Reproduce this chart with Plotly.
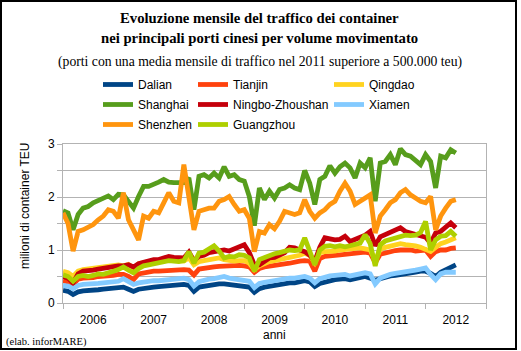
import plotly.graph_objects as go

years = ["2006", "2007", "2008", "2009", "2010", "2011", "2012"]
ports = ["Dalian", "Tianjin", "Qingdao", "Shanghai", "Ningbo-Zhoushan",
         "Xiamen", "Shenzhen", "Guangzhou"]
colors = ["#004586", "#ff420e", "#ffd320", "#579d1c", "#c5000b",
          "#83caff", "#ff950e", "#aecf00"]

dalian = [0.24, 0.22, 0.16, 0.21, 0.23, 0.23, 0.24, 0.25, 0.26, 0.27, 0.27, 0.28,
          0.30, 0.26, 0.22, 0.26, 0.28, 0.29, 0.30, 0.31, 0.32, 0.33, 0.33, 0.34,
          0.35, 0.33, 0.22, 0.30, 0.32, 0.34, 0.35, 0.36, 0.36, 0.35, 0.34, 0.33,
          0.33, 0.30, 0.20, 0.27, 0.30, 0.32, 0.33, 0.35, 0.37, 0.38, 0.38, 0.39,
          0.42, 0.40, 0.31, 0.37, 0.40, 0.42, 0.44, 0.45, 0.46, 0.44, 0.46, 0.48,
          0.50, 0.47, 0.43, 0.46, 0.49, 0.51, 0.52, 0.53, 0.55, 0.56, 0.58, 0.60,
          0.60, 0.56, 0.50, 0.58, 0.62, 0.67, 0.72]
tianjin = [0.42, 0.40, 0.35, 0.45, 0.47, 0.47, 0.48, 0.50, 0.50, 0.52, 0.52, 0.54,
           0.54, 0.50, 0.44, 0.55, 0.57, 0.58, 0.60, 0.60, 0.61, 0.62, 0.62, 0.62,
           0.63, 0.62, 0.53, 0.64, 0.66, 0.67, 0.68, 0.69, 0.70, 0.70, 0.72, 0.71,
           0.70, 0.68, 0.58, 0.65, 0.68, 0.70, 0.70, 0.72, 0.74, 0.75, 0.78, 0.79,
           0.80, 0.79, 0.60, 0.84, 0.88, 0.90, 0.90, 0.91, 0.92, 0.93, 0.94, 0.95,
           0.96, 0.94, 0.76, 0.92, 0.95, 0.97, 0.99, 1.00, 1.01, 1.00, 0.98, 0.99,
           1.00, 0.88, 0.97, 1.00, 1.00, 1.03, 1.04]
qingdao = [0.60, 0.57, 0.50, 0.60, 0.63, 0.64, 0.65, 0.66, 0.68, 0.68, 0.70, 0.72,
           0.70, 0.73, 0.66, 0.74, 0.76, 0.78, 0.80, 0.80, 0.82, 0.82, 0.80, 0.80,
           0.79, 0.85, 0.72, 0.78, 0.80, 0.82, 0.84, 0.85, 0.82, 0.80, 0.79, 0.80,
           0.80, 0.75, 0.63, 0.70, 0.75, 0.78, 0.80, 0.82, 0.83, 0.85, 0.88, 0.90,
           0.94, 0.90, 0.76, 0.95, 0.97, 0.97, 0.98, 1.00, 1.00, 1.02, 1.03, 1.04,
           1.02, 1.00, 0.80, 1.02, 1.05, 1.08, 1.10, 1.12, 1.10, 1.10, 1.08, 1.05,
           1.02, 0.97, 1.05, 1.12, 1.15, 1.19, 1.23]
shanghai = [1.74, 1.70, 1.38, 1.67, 1.79, 1.82, 1.89, 1.93, 1.98, 2.02, 1.95, 2.05,
            2.04, 1.92, 1.79, 2.01, 2.20, 2.20, 2.23, 2.28, 2.33, 2.28, 2.27, 2.28,
            2.27, 2.36, 1.76, 2.39, 2.42, 2.36, 2.45, 2.36, 2.57, 2.39, 2.42, 2.33,
            2.30, 2.01, 1.46, 2.17, 1.95, 2.11, 1.98, 2.14, 2.17, 2.23, 2.17, 2.14,
            2.50, 2.26, 1.86, 2.33, 2.39, 2.59, 2.45, 2.57, 2.64, 2.55, 2.36, 2.64,
            2.55, 2.74, 1.92, 2.64, 2.67, 2.80, 2.61, 2.91, 2.80, 2.77, 2.70, 2.61,
            2.80, 2.67, 2.17, 2.77, 2.74, 2.89, 2.83]
ningbo = [0.50, 0.47, 0.38, 0.55, 0.60, 0.60, 0.62, 0.64, 0.66, 0.68, 0.68, 0.70,
          0.70, 0.72, 0.68, 0.74, 0.77, 0.80, 0.82, 0.82, 0.85, 0.88, 0.86, 0.85,
          0.85, 0.96, 0.80, 0.88, 0.90, 0.95, 0.97, 0.97, 1.00, 0.98, 1.02, 1.05,
          1.10, 0.95, 0.72, 0.72, 0.78, 0.85, 0.86, 0.90, 0.95, 1.05, 1.04, 1.00,
          0.97, 0.90, 0.79, 1.05, 1.23, 1.21, 1.19, 1.20, 1.26, 1.16, 1.20, 1.26,
          1.28, 1.35, 1.08, 1.25, 1.29, 1.32, 1.38, 1.42, 1.35, 1.32, 1.28, 1.26,
          1.24, 1.13, 1.32, 1.35, 1.42, 1.51, 1.42]
xiamen = [0.33, 0.32, 0.27, 0.33, 0.35, 0.35, 0.36, 0.37, 0.38, 0.39, 0.40, 0.41,
          0.46, 0.40, 0.35, 0.38, 0.40, 0.41, 0.42, 0.42, 0.43, 0.44, 0.45, 0.45,
          0.47, 0.44, 0.32, 0.40, 0.43, 0.45, 0.46, 0.48, 0.50, 0.47, 0.46, 0.45,
          0.44, 0.41, 0.29, 0.37, 0.39, 0.41, 0.42, 0.44, 0.46, 0.47, 0.47, 0.48,
          0.50, 0.47, 0.38, 0.46, 0.49, 0.51, 0.52, 0.53, 0.54, 0.51, 0.53, 0.56,
          0.57, 0.55, 0.36, 0.47, 0.51, 0.54, 0.56, 0.57, 0.58, 0.60, 0.62, 0.64,
          0.66, 0.54, 0.44, 0.55, 0.58, 0.58, 0.58]
shenzhen = [1.70, 1.50, 0.98, 1.35, 1.38, 1.42, 1.48, 1.57, 1.64, 1.76, 1.73, 1.60,
            2.08, 1.57, 1.38, 1.19, 1.64, 1.60, 1.73, 1.70, 1.89, 2.08, 1.92, 1.89,
            2.61, 2.01, 1.38, 1.73, 1.76, 1.79, 1.79, 1.92, 1.95, 2.01, 1.86, 1.73,
            1.76, 1.60, 0.97, 1.35, 1.32, 1.48, 1.40, 1.54, 1.73, 1.70, 1.67, 1.70,
            1.95, 1.73, 1.60, 1.70, 1.76, 1.86, 1.92, 2.11, 2.26, 2.11, 1.86, 1.92,
            1.98, 2.04, 1.32, 1.64, 1.76, 1.89, 1.95, 2.08, 2.14, 2.04, 1.98, 1.92,
            1.89, 2.01, 1.38, 1.64, 1.79, 1.92, 1.95]
guangzhou = [0.53, 0.50, 0.41, 0.50, 0.52, 0.50, 0.52, 0.55, 0.54, 0.58, 0.60, 0.63,
             0.68, 0.62, 0.57, 0.65, 0.70, 0.72, 0.74, 0.75, 0.78, 0.80, 0.79, 0.78,
             0.80, 0.97, 0.75, 0.94, 0.96, 1.02, 1.08, 0.98, 0.85, 0.88, 0.87, 0.91,
             0.90, 0.85, 0.60, 0.82, 0.86, 0.90, 0.93, 0.95, 0.97, 1.00, 0.99, 1.00,
             1.23, 1.00, 0.72, 1.00, 1.07, 1.08, 1.06, 1.08, 1.06, 1.08, 1.10, 1.13,
             1.29, 1.12, 0.70, 1.10, 1.17, 1.20, 1.24, 1.27, 1.28, 1.27, 1.28, 1.33,
             1.54, 1.00, 1.19, 1.26, 1.27, 1.35, 1.26]

series = [dalian, tianjin, qingdao, shanghai, ningbo, xiamen, shenzhen, guangzhou]
legend_of = ["legend", "legend2", "legend3", "legend", "legend2", "legend3",
             "legend", "legend2"]

# plot area in pixels
W, H = 521, 351
L, R, T, B = 63, 35, 144, 48
PW, PH = W - L - R, H - T - B


def px(xp):
    return (xp - L) / PW


def py(yp):
    return (H - B - yp) / PH


fig = go.Figure()
for name, vals, col, lg in zip(ports, series, colors, legend_of):
    fig.add_trace(go.Scatter(
        x=list(range(len(vals))), y=vals, mode="lines", name=name,
        line=dict(color=col, width=4.8), legend=lg, legendgroup=name))

ncat = 12 * len(years)
axis_col = "#b3b3b3"
font_sans = "Liberation Sans, Arial, sans-serif"
font_serif = "Liberation Serif, Times New Roman, serif"

leg_common = dict(orientation="v", bgcolor="rgba(0,0,0,0)", borderwidth=0,
                  font=dict(family=font_sans, size=12, color="#000"),
                  tracegroupgap=1, xanchor="left", yanchor="top",
                  itemwidth=30)

fig.update_layout(
    width=W, height=H,
    margin=dict(l=L, r=R, t=T, b=B, pad=0),
    paper_bgcolor="white", plot_bgcolor="white",
    showlegend=True,
    legend=dict(x=px(98), y=py(70), **leg_common),
    legend2=dict(x=px(193), y=py(70), **leg_common),
    legend3=dict(x=px(329), y=py(70), **leg_common),
    xaxis=dict(
        range=[0, ncat], tickmode="array",
        tickvals=[12 * k + 6 for k in range(len(years))], ticktext=years,
        ticks="outside", ticklen=6, tickcolor="rgba(0,0,0,0)",
        showgrid=False, zeroline=False, showline=True, linecolor=axis_col,
        mirror=True,
        tickfont=dict(family=font_sans, size=12, color="#000"),
        minor=dict(tickmode="array",
                   tickvals=[12 * k for k in range(len(years) + 1)],
                   ticks="outside", ticklen=5, tickcolor=axis_col,
                   showgrid=False),
    ),
    yaxis=dict(
        range=[0, 3], tickmode="array", tickvals=[0, 1, 2, 3],
        ticks="outside", ticklen=5, tickcolor=axis_col,
        showgrid=True, gridcolor=axis_col, zeroline=False,
        showline=True, linecolor=axis_col, mirror=True,
        tickfont=dict(family=font_sans, size=12, color="#000"),
        minor=dict(dtick=0.5, ticks="outside", ticklen=5, tickcolor=axis_col,
                   showgrid=True, gridcolor=axis_col),
    ),
    annotations=[
        dict(text="<b>Evoluzione mensile del traffico dei container</b>",
             x=px(259), y=py(18), xref="paper", yref="paper", showarrow=False,
             xanchor="center", yanchor="middle",
             font=dict(family=font_serif, size=14.7, color="#000")),
        dict(text="<b>nei principali porti cinesi per volume movimentato</b>",
             x=px(259), y=py(38), xref="paper", yref="paper", showarrow=False,
             xanchor="center", yanchor="middle",
             font=dict(family=font_serif, size=14.7, color="#000")),
        dict(text="(porti con una media mensile di traffico nel 2011 superiore a 500.000 teu)",
             x=px(260), y=py(62), xref="paper", yref="paper", showarrow=False,
             xanchor="center", yanchor="middle",
             font=dict(family=font_serif, size=13.7, color="#000")),
        dict(text="milioni di container TEU", textangle=-90,
             x=px(25), y=py(206), xref="paper", yref="paper", showarrow=False,
             xanchor="center", yanchor="middle",
             font=dict(family=font_sans, size=12, color="#000")),
        dict(text="anni",
             x=0.5, y=py(335), xref="paper", yref="paper", showarrow=False,
             xanchor="center", yanchor="middle",
             font=dict(family=font_sans, size=12, color="#000")),
        dict(text="(elab. inforMARE)",
             x=px(4), y=py(342), xref="paper", yref="paper", showarrow=False,
             xanchor="left", yanchor="middle",
             font=dict(family=font_serif, size=10.5, color="#000")),
    ],
    shapes=[
        dict(type="rect", xref="paper", yref="paper",
             x0=px(1), x1=px(516), y0=py(349), y1=py(1),
             line=dict(color="#000", width=2), fillcolor="rgba(0,0,0,0)",
             layer="above"),
    ],
)

fig.write_html("out.html")
